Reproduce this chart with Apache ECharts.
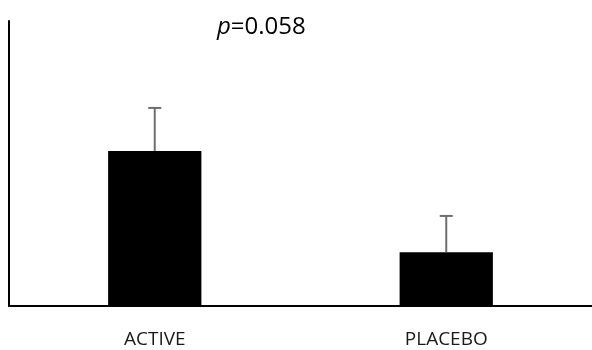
<!DOCTYPE html>
<html>
<head>
<meta charset="utf-8">
<script src="https://cdn.jsdelivr.net/npm/echarts@6/dist/echarts.min.js"></script>
<style>
  html, body { margin: 0; padding: 0; background: #fff; }
  #chart { width: 592px; height: 350px; }
</style>
</head>
<body>
<div id="chart"></div>
<script>
// Group names, means and standard errors
const groups = ['ACTIVE', 'PLACEBO'];
const means = [54.4, 18.9];
const errors = [15.1, 12.7];
const pValueText = '0.058';

const chart = echarts.init(document.getElementById('chart'));

const errorData = groups.map((g, i) => [i, means[i], means[i] + errors[i]]);

chart.setOption({
  animation: false,
  grid: { left: 9, right: 0, top: 21, bottom: 44, containLabel: false },
  xAxis: {
    type: 'category',
    data: groups,
    axisLine: { lineStyle: { color: '#000', width: 2 } },
    axisTick: { show: false },
    axisLabel: {
      color: '#1a1a1a',
      fontFamily: 'Open Sans',
      fontSize: 19,
      margin: 24
    }
  },
  yAxis: {
    type: 'value',
    min: 0,
    max: 100,
    axisLine: { show: true, lineStyle: { color: '#000', width: 2 } },
    axisTick: { show: false },
    axisLabel: { show: false },
    splitLine: { show: false }
  },
  series: [
    {
      type: 'bar',
      data: means,
      barWidth: '32%',
      itemStyle: { color: '#000' }
    },
    {
      type: 'custom',
      data: errorData,
      z: 3,
      renderItem: function (params, api) {
        const x = api.value(0);
        const base = api.coord([x, api.value(1)]);
        const top = api.coord([x, api.value(2)]);
        const half = 6.5;
        const style = { stroke: '#6e6e6e', lineWidth: 2 };
        return {
          type: 'group',
          children: [
            { type: 'line', shape: { x1: top[0], y1: base[1], x2: top[0], y2: top[1] }, style: style },
            { type: 'line', shape: { x1: top[0] - half, y1: top[1], x2: top[0] + half, y2: top[1] }, style: style }
          ]
        };
      }
    }
  ],
  graphic: [
    {
      type: 'text',
      left: 217,
      top: 15,
      style: {
        rich: {
          p: { fontStyle: 'italic', fontFamily: 'Open Sans', fontSize: 24, fill: '#000' },
          v: { fontFamily: 'Open Sans', fontSize: 24, fill: '#000' }
        },
        text: '{p|p}{v|=' + pValueText + '}'
      }
    }
  ]
});
</script>
</body>
</html>
